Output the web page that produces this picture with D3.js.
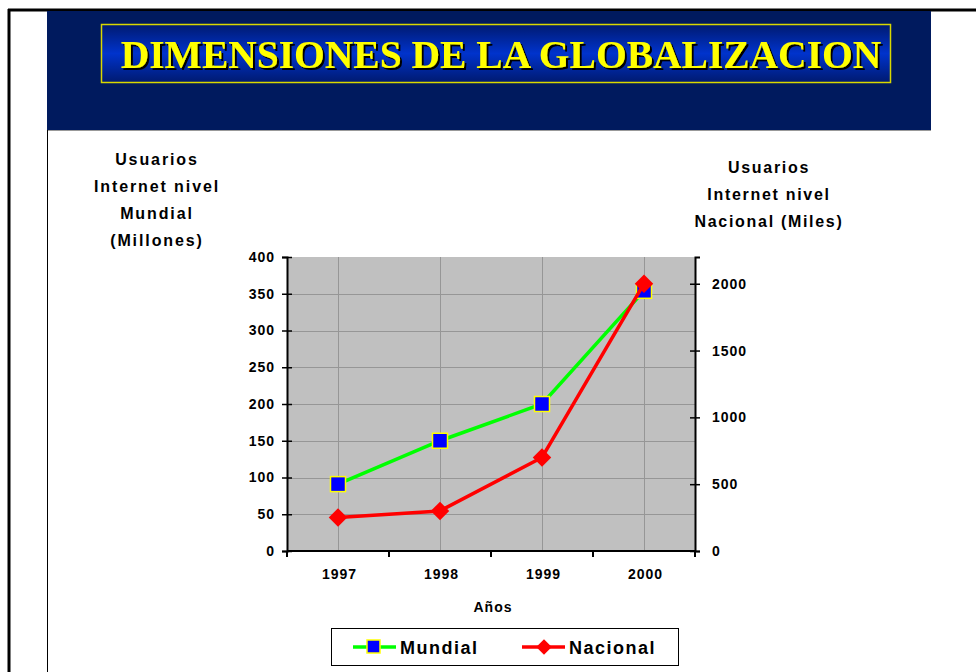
<!DOCTYPE html>
<html>
<head>
<meta charset="utf-8">
<script src="https://cdn.jsdelivr.net/npm/d3@7"></script>
<style>
  body { margin: 0; background: #fff; }
  text { font-family: Arial, "Liberation Sans", sans-serif; font-weight: bold; fill: #000; }
</style>
</head>
<body>
<div id="chart"></div>
<script>
// data
var years = ["1997", "1998", "1999", "2000"];
var mundial = [91, 150, 200, 354];      // millones, left axis
var nacional = [250, 300, 700, 2000];   // miles, right axis
var leftTicks = [0, 50, 100, 150, 200, 250, 300, 350, 400];
var rightTicks = [0, 500, 1000, 1500, 2000];
var leftTitle = ["Usuarios", "Internet nivel", "Mundial", "(Millones)"];
var rightTitle = ["Usuarios", "Internet nivel", "Nacional (Miles)"];
var title = "DIMENSIONES DE LA GLOBALIZACION";

var W = 976, H = 672;
var plot = {left: 287, right: 695, top: 257, bottom: 551};

var svg = d3.select("#chart").append("svg")
    .attr("width", W)
    .attr("height", H);

var defs = svg.append("defs");
var grad = defs.append("linearGradient")
    .attr("id", "titleGrad")
    .attr("x1", 0).attr("y1", 0).attr("x2", 0).attr("y2", 1);
grad.append("stop").attr("offset", "0%").attr("stop-color", "#001a70");
grad.append("stop").attr("offset", "50%").attr("stop-color", "#0033cc");
grad.append("stop").attr("offset", "100%").attr("stop-color", "#001a70");
var shadow = defs.append("filter").attr("id", "shadow")
    .attr("x", "-5%").attr("y", "-20%").attr("width", "110%").attr("height", "140%");
shadow.append("feDropShadow")
    .attr("dx", 2).attr("dy", 2).attr("stdDeviation", 0.3)
    .attr("flood-color", "#000").attr("flood-opacity", 1);

// slide frame
svg.append("line").attr("x1", 8).attr("x2", W).attr("y1", 10).attr("y2", 10)
    .attr("stroke", "#000").attr("stroke-width", 3);
svg.append("line").attr("x1", 9).attr("x2", 9).attr("y1", 9).attr("y2", H)
    .attr("stroke", "#000").attr("stroke-width", 3);
svg.append("rect").attr("x", 47).attr("y", 11).attr("width", 884).attr("height", 119)
    .attr("fill", "#001a5e");
svg.append("line").attr("x1", 47).attr("x2", 931).attr("y1", 130.5).attr("y2", 130.5)
    .attr("stroke", "#999").attr("stroke-width", 1);
svg.append("line").attr("x1", 47.5).attr("x2", 47.5).attr("y1", 130).attr("y2", H)
    .attr("stroke", "#000").attr("stroke-width", 1);

// title box
svg.append("rect").attr("x", 101.5).attr("y", 24.5).attr("width", 789).attr("height", 58)
    .attr("fill", "url(#titleGrad)")
    .attr("stroke", "#d8d800").attr("stroke-width", 1.5);
svg.append("text")
    .attr("x", 501).attr("y", 68)
    .attr("text-anchor", "middle")
    .attr("filter", "url(#shadow)")
    .style("font-family", "'Liberation Serif', 'Times New Roman', serif")
    .style("font-size", "39.5px")
    .style("fill", "#ffff00")
    .text(title);

// scales
var x = d3.scaleBand().domain(years).range([plot.left, plot.right]);
var yL = d3.scaleLinear().domain([0, 400]).range([plot.bottom, plot.top]);
var yR = d3.scaleLinear().domain([0, 2200]).range([plot.bottom, plot.top]);

// plot area
svg.append("rect")
    .attr("x", plot.left).attr("y", plot.top)
    .attr("width", plot.right - plot.left).attr("height", plot.bottom - plot.top)
    .attr("fill", "#c0c0c0");

svg.append("g").selectAll("line")
    .data(leftTicks.slice(1, -1))
    .join("line")
    .attr("x1", plot.left).attr("x2", plot.right)
    .attr("y1", d => Math.round(yL(d)) + 0.5).attr("y2", d => Math.round(yL(d)) + 0.5)
    .attr("stroke", "#969696");
svg.append("g").selectAll("line")
    .data(years)
    .join("line")
    .attr("x1", d => Math.round(x(d) + x.bandwidth() / 2) + 0.5)
    .attr("x2", d => Math.round(x(d) + x.bandwidth() / 2) + 0.5)
    .attr("y1", plot.top).attr("y2", plot.bottom)
    .attr("stroke", "#969696");

// axes
var leftAxis = svg.append("g")
    .attr("transform", `translate(${plot.left},0)`)
    .call(d3.axisLeft(yL).tickValues(leftTicks).tickSize(5).tickPadding(7));
leftAxis.selectAll(".tick line").attr("x2", 5).attr("x1", -5);

var rightAxis = svg.append("g")
    .attr("transform", `translate(${plot.right},0)`)
    .call(d3.axisRight(yR).tickValues(rightTicks).tickFormat(d3.format("d")).tickSize(5).tickPadding(12));
rightAxis.selectAll(".tick line").attr("x1", -5).attr("x2", 5);

var bottomAxis = svg.append("g")
    .attr("transform", `translate(0,${plot.bottom})`)
    .call(d3.axisBottom(x).tickSize(0).tickPadding(18));
// tick marks at band edges
bottomAxis.selectAll(".edge")
    .data(years.concat(["end"]))
    .join("line")
    .attr("class", "edge")
    .attr("x1", d => d === "end" ? plot.right : x(d))
    .attr("x2", d => d === "end" ? plot.right : x(d))
    .attr("y1", 0).attr("y2", 6)
    .attr("stroke", "#000").attr("stroke-width", 2);

[leftAxis, rightAxis, bottomAxis].forEach(g => {
    g.select(".domain").attr("stroke", "#000").attr("stroke-width", 2);
    g.selectAll(".tick line").attr("stroke", "#000").attr("stroke-width", 1.5);
    g.selectAll("text")
        .style("font-family", "Arial, 'Liberation Sans', sans-serif")
        .style("font-weight", "bold")
        .style("font-size", "14px")
        .style("letter-spacing", "1px")
        .attr("fill", "#000");
});
bottomAxis.selectAll(".tick text").attr("dx", 1.5);
bottomAxis.select(".domain").attr("d", `M${plot.left},0H${plot.right}`);

// axis titles
svg.append("text")
    .attr("x", 493).attr("y", 612)
    .attr("text-anchor", "middle")
    .style("font-size", "14px")
    .style("letter-spacing", "1px")
    .text("Años");

svg.append("g").selectAll("text")
    .data(leftTitle)
    .join("text")
    .attr("x", 157).attr("y", (d, i) => 165 + i * 27)
    .attr("text-anchor", "middle")
    .style("font-size", "16px")
    .style("letter-spacing", "1.9px")
    .text(d => d);

svg.append("g").selectAll("text")
    .data(rightTitle)
    .join("text")
    .attr("x", 769).attr("y", (d, i) => 173 + i * 27)
    .attr("text-anchor", "middle")
    .style("font-size", "16px")
    .style("letter-spacing", "1.7px")
    .text(d => d);

// series
var cx = d => x(d) + x.bandwidth() / 2;
var lineL = d3.line().x((d, i) => cx(years[i])).y(d => yL(d));
var lineR = d3.line().x((d, i) => cx(years[i])).y(d => yR(d));

svg.append("path").datum(mundial)
    .attr("d", lineL)
    .attr("fill", "none").attr("stroke", "#00ff00").attr("stroke-width", 3.5);
svg.append("g").selectAll("rect")
    .data(mundial)
    .join("rect")
    .attr("x", (d, i) => cx(years[i]) - 7.5)
    .attr("y", d => yL(d) - 7.5)
    .attr("width", 15).attr("height", 15)
    .attr("fill", "#0000ff").attr("stroke", "#ffff00").attr("stroke-width", 1.5);

svg.append("path").datum(nacional)
    .attr("d", lineR)
    .attr("fill", "none").attr("stroke", "#ff0000").attr("stroke-width", 3.5);
var diamond = d3.symbol().type(d3.symbolSquare).size(170);
svg.append("g").selectAll("path")
    .data(nacional)
    .join("path")
    .attr("d", diamond)
    .attr("transform", (d, i) => `translate(${cx(years[i])},${yR(d)}) rotate(45)`)
    .attr("fill", "#ff0000");

// legend
var legend = svg.append("g");
legend.append("rect")
    .attr("x", 331.5).attr("y", 628.5).attr("width", 347).attr("height", 37)
    .attr("fill", "#fff").attr("stroke", "#000").attr("stroke-width", 1);
var legItems = [
    {name: "Mundial", color: "#00ff00", x0: 353},
    {name: "Nacional", color: "#ff0000", x0: 522}
];
legItems.forEach((it, k) => {
    legend.append("line")
        .attr("x1", it.x0).attr("x2", it.x0 + 43)
        .attr("y1", 647).attr("y2", 647)
        .attr("stroke", it.color).attr("stroke-width", 3.5);
    if (k === 0) {
        legend.append("rect")
            .attr("x", it.x0 + 14).attr("y", 640).attr("width", 13).attr("height", 13)
            .attr("fill", "#0000ff").attr("stroke", "#ffff00").attr("stroke-width", 1.5);
    } else {
        legend.append("path")
            .attr("d", d3.symbol().type(d3.symbolSquare).size(120))
            .attr("transform", `translate(${it.x0 + 22},647) rotate(45)`)
            .attr("fill", "#ff0000");
    }
    legend.append("text")
        .attr("x", it.x0 + 47).attr("y", 654)
        .style("font-size", "18px")
        .style("letter-spacing", "1.5px")
        .text(it.name);
});
</script>
</body>
</html>
